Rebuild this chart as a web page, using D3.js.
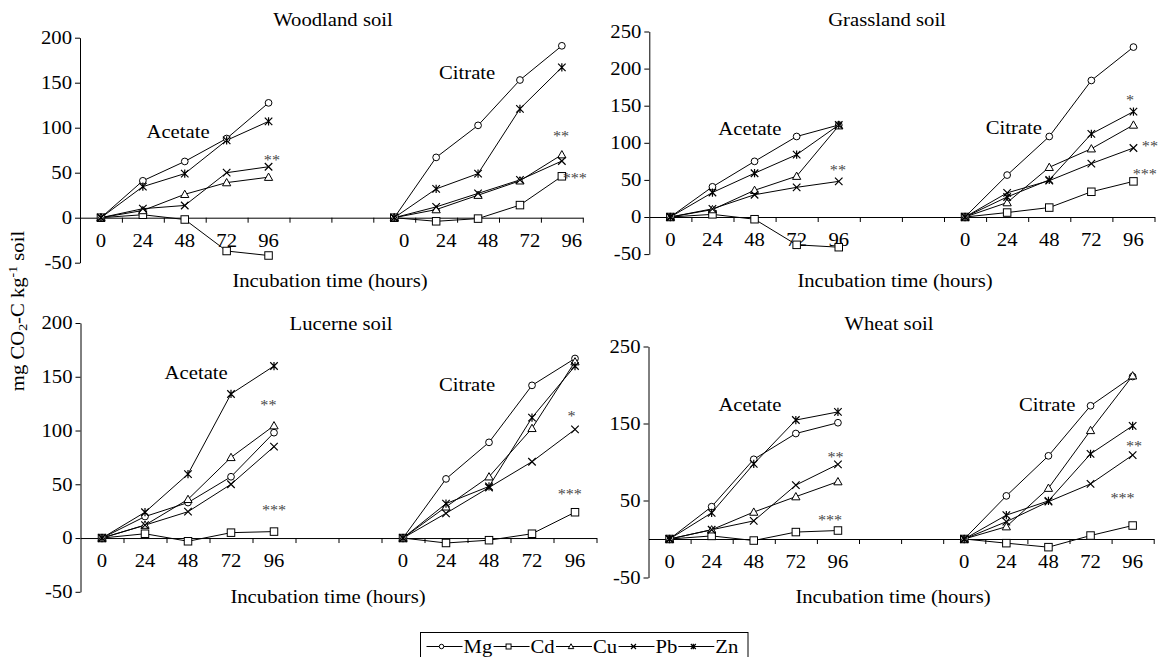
<!DOCTYPE html>
<html>
<head>
<meta charset="utf-8">
<script src="https://cdn.jsdelivr.net/npm/d3@7"></script>
<style>
    body {margin: 0; background: #fff;}
    svg {display: block;}
    text {font-family: "Liberation Serif", "Times New Roman", Times, "DejaVu Serif", serif;}
    .stars {opacity: 0.99;}
</style>
</head>
<body>
<svg id="chart" width="1160" height="657"></svg>
<script>
const hours = ["0", "24", "48", "72", "96"]
const metals = ["Mg", "Cd", "Cu", "Pb", "Zn"]
// category slots on the x axis (5 and 6 are the empty gap)
const acetateSlots = [0, 1, 2, 3, 4]
const citrateSlots = [7, 8, 9, 10, 11]

// values per metal, in the order of metals, at 0/24/48/72/96 h
const woodlandAcetate = [
    [0, 41, 62.5, 88, 127.6],
    [0, 3.3, -2, -37, -42],
    [0, 8, 26, 39, 45],
    [0, 10, 13.6, 50, 56.6],
    [0, 34.5, 49, 86, 107]
]
const woodlandCitrate = [
    [0, 67, 102.6, 153, 191],
    [0, -4, -1, 14, 46],
    [0, 9, 25, 41, 70],
    [0, 12, 27, 42, 63],
    [0, 32, 49, 121, 167]
]
const grasslandAcetate = [
    [0, 40.7, 75, 108.5, 124],
    [0, 3.6, -3, -37.5, -40.7],
    [0, 10, 36, 55, 123],
    [0, 11, 30, 40, 48],
    [0, 33, 59, 84, 124]
]
const grasslandCitrate = [
    [0, 56.5, 108.5, 184, 229],
    [0, 6, 12.7, 34, 48],
    [0, 19.4, 67, 92, 124],
    [0, 32.5, 49, 72, 93],
    [0, 27, 50, 112, 142]
]
const lucerneAcetate = [
    [0, 20, 33, 57, 98],
    [0, 4, -3, 5, 6],
    [0, 12, 36, 75, 104.5],
    [0, 12, 24.5, 50, 85],
    [0, 24, 59.5, 134, 160]
]
const lucerneCitrate = [
    [0, 55, 89, 142, 167],
    [0, -4.6, -2, 4, 24],
    [0, 29, 57, 102, 164],
    [0, 23, 47, 71, 101],
    [0, 32, 48, 112, 160]
]
const wheatAcetate = [
    [0, 42, 103.5, 137, 151],
    [0, 4, -2, 9, 11],
    [0, 12, 35, 55, 74.5],
    [0, 12, 23.5, 70, 97],
    [0, 34, 97.5, 154.5, 165]
]
const wheatCitrate = [
    [0, 56, 108, 173, 211],
    [0, -5.4, -10.6, 4.5, 17.5],
    [0, 16, 66, 141, 212],
    [0, 22.5, 48.5, 71.5, 109],
    [0, 31, 49.5, 110.5, 147]
]

const woodlandTicks = [-50, 0, 50, 100, 150, 200]
const grasslandTicks = [-50, 0, 50, 100, 150, 200, 250]
const lucerneTicks = [-50, 0, 50, 100, 150, 200]
const wheatTicks = [-50, 50, 150, 250]

// annotations: [text, slot, value]
const woodlandNotes = [["Acetate", 1.84, 95], ["Citrate", 8.74, 161], ["**", 4.08, 67], ["**", 10.98, 94], ["***", 11.31, 47]]
const grasslandNotes = [["Acetate", 1.89, 119], ["Citrate", 8.16, 120], ["**", 3.98, 67.6], ["*", 10.92, 162], ["**", 11.39, 100], ["***", 11.27, 62]]
const lucerneNotes = [["Acetate", 2.19, 153.5], ["Citrate", 8.49, 142], ["**", 3.87, 126.5], ["***", 4.0, 28.8], ["*", 10.92, 116], ["***", 10.88, 43.7]]
const wheatNotes = [["Acetate", 1.91, 174], ["Citrate", 8.97, 174], ["**", 3.94, 110], ["***", 3.81, 28.6], ["**", 11.03, 124.7], ["***", 10.76, 57]]

const SX = 1.15   // the scan is a little stretched sideways
const FONT = "'Liberation Serif', 'Times New Roman', Times, 'DejaVu Serif', serif"
const svg = d3.select("#chart")

let panels = [
    {title: "Woodland soil", acetate: woodlandAcetate, citrate: woodlandCitrate, ticks: woodlandTicks, notes: woodlandNotes,
        yDomain: [-50, 200], xRange: [80, 582.8], yRange: [262.7, 37.7], titleX: 333, titleY: 26, xTitleX: 330, xTitleY: 287, citrateDx: 10},
    {title: "Grassland soil", acetate: grasslandAcetate, citrate: grasslandCitrate, ticks: grasslandTicks, notes: grasslandNotes,
        yDomain: [-50, 250], xRange: [649.3, 1154.5], yRange: [254.1, 31.5], titleX: 887, titleY: 26, xTitleX: 895, xTitleY: 287, citrateDx: 0},
    {title: "Lucerne soil", acetate: lucerneAcetate, citrate: lucerneCitrate, ticks: lucerneTicks, notes: lucerneNotes,
        yDomain: [-50, 200], xRange: [80.5, 596.5], yRange: [591.8, 323], titleX: 341, titleY: 330, xTitleX: 328, xTitleY: 603, citrateDx: 0},
    {title: "Wheat soil", acetate: wheatAcetate, citrate: wheatCitrate, ticks: wheatTicks, notes: wheatNotes,
        yDomain: [-50, 250], xRange: [648.5, 1153.7], yRange: [577.5, 346.5], titleX: 889, titleY: 330, xTitleX: 893, xTitleY: 603, citrateDx: 0}
]

function label(g, x, y, str, size, anchor) {
    return g.append("text")
        .attr("transform", `translate(${x},${y}) scale(${SX},1)`)
        .attr("text-anchor", anchor || "middle")
        .attr("font-family", FONT)
        .attr("font-size", size || 18)
        .attr("fill", "#000")
        .text(str)
}

function marker(g, name, s) {
    let m = g.append("g").attr("fill", "#fff").attr("stroke", "#000").attr("stroke-width", 1)
    let h = s / 2
    if (name === "Mg") {
        m.append("circle").attr("r", h * 0.9)
    } else if (name === "Cd") {
        m.append("rect").attr("x", -h).attr("y", -h).attr("width", s).attr("height", s)
    } else if (name === "Cu") {
        m.append("path").attr("d", `M0,${-h * 1.1}L${h * 1.1},${h * 0.85}L${-h * 1.1},${h * 0.85}Z`)
    } else {
        let d = `M${-h},${-h}L${h},${h}M${-h},${h}L${h},${-h}`
        if (name === "Zn") d += `M0,${-h * 1.1}L0,${h * 1.1}`
        m.append("path").attr("d", d).attr("fill", "none").attr("stroke-width", 1.2)
    }
    return m
}

function drawPanel(p) {
    let g = svg.append("g")
    let x = d3.scaleLinear().domain([-0.5, 11.5]).range(p.xRange)
    let y = d3.scaleLinear().domain(p.yDomain).range(p.yRange)

    let ya = g.append("g")
        .attr("transform", `translate(${p.xRange[0]},0)`)
        .call(d3.axisLeft(y).tickValues(p.ticks).tickSize(5).tickSizeOuter(0).tickFormat(d => String(d)))
    ya.attr("font-family", FONT).attr("font-size", 18)
    ya.selectAll("text").attr("fill", "#000").attr("x", -8 / SX).attr("transform", `scale(${SX},1)`)
    ya.selectAll("line,path").attr("stroke", "#000")

    let xa = g.append("g")
        .attr("transform", `translate(0,${y(0)})`)
        .call(d3.axisBottom(x).tickValues(d3.range(0.5, 12, 1)).tickSize(5).tickSizeOuter(0).tickFormat(""))
    xa.selectAll("line,path").attr("stroke", "#000")

    hours.forEach((h, i) => {
        label(g, x(acetateSlots[i]), y(0) + 29, h)
        label(g, x(citrateSlots[i]) + p.citrateDx, y(0) + 29, h)
    })

    let groups = [[p.acetate, acetateSlots], [p.citrate, citrateSlots]]
    groups.forEach(([rows, slots]) => {
        rows.forEach((vals) => {
            let line = d3.line().x((d, i) => x(slots[i])).y(d => y(d))
            g.append("path").attr("d", line(vals)).attr("fill", "none").attr("stroke", "#000").attr("stroke-width", 1)
        })
    })
    groups.forEach(([rows, slots]) => {
        rows.forEach((vals, k) => {
            vals.forEach((v, i) => {
                marker(g, metals[k], 7.5).attr("transform", `translate(${x(slots[i])},${y(v)})`)
            })
        })
    })

    p.notes.forEach(([t, s, v]) => {
        let star = t.startsWith("*")
        let n = label(g, x(s), y(v) + (star ? 8 : 6), t, star ? 14 : 18)
        if (star) n.attr("fill", "#444").attr("class", "stars")
    })

    label(g, p.titleX, p.titleY, p.title)
    label(g, p.xTitleX, p.xTitleY, "Incubation time (hours)")
}

panels.forEach(drawPanel)

// y axis title
let yt = svg.append("text")
    .attr("transform", `translate(24,311) rotate(-90) scale(${SX},1)`)
    .attr("text-anchor", "middle")
    .attr("font-family", FONT)
    .attr("font-size", 18)
yt.append("tspan").text("mg CO")
yt.append("tspan").text("2").attr("font-size", 12).attr("dy", 3)
yt.append("tspan").text("-C kg").attr("dy", -3)
yt.append("tspan").text("-1").attr("font-size", 12).attr("dy", -7)
yt.append("tspan").text(" soil").attr("dy", 7)

// legend
let lg = svg.append("g")
lg.append("rect").attr("x", 420.5).attr("y", 632.5).attr("width", 327.5).attr("height", 40)
    .attr("fill", "#fff").attr("stroke", "#000")
let cx = 426.5
let ly = 646.5
metals.forEach((m) => {
    lg.append("line").attr("x1", cx).attr("x2", cx + 36).attr("y1", ly).attr("y2", ly).attr("stroke", "#000")
    marker(lg, m, 5).attr("transform", `translate(${cx + 15},${ly})`)
    let t = label(lg, cx + 37, ly + 6, m, 18, "start")
    cx += 37 + t.node().getBBox().width * SX + 1
})
</script>
</body>
</html>
